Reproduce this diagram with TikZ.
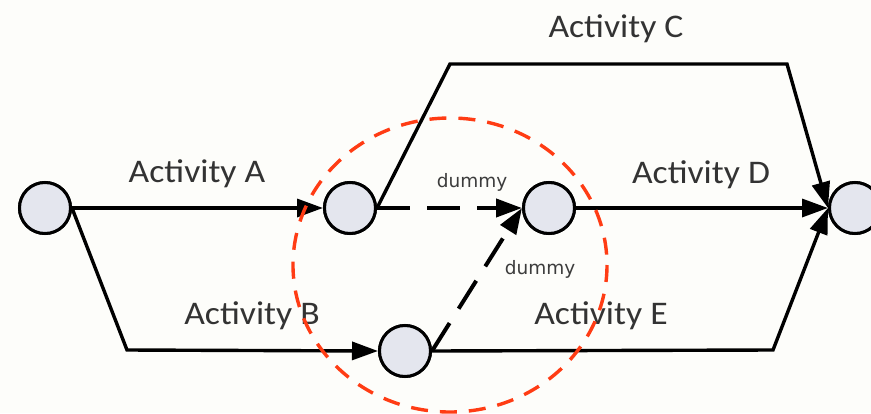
\documentclass[tikz,border=0pt]{standalone}
\usepackage{fontspec}
\setmainfont{Carlito}
\newfontfamily\dumfont{DejaVu Sans}
\usetikzlibrary{arrows.meta}

\definecolor{bgpaper}{RGB}{253,253,250}
\definecolor{eventfill}{RGB}{228,230,238}
\definecolor{ringred}{RGB}{255,60,20}
\definecolor{dumtext}{RGB}{60,60,60}

\tikzset{
  event/.style={circle, draw=black, line width=3pt, fill=eventfill,
                minimum size=51pt, inner sep=0pt},
  act/.style={line width=3.4pt, -{Triangle[length=26pt, width=18pt]}},
  dum/.style={act, line width=4pt, dash pattern=on 33pt off 17pt},
  actlabel/.style={anchor=base, font=\fontsize{33}{36}\selectfont, text=black!80},
  dumlabel/.style={anchor=base, font=\dumfont\fontsize{18.5}{20}\selectfont, text=dumtext},
  ring/.style={draw=ringred, line width=3.4pt, dash pattern=on 17pt off 12pt}
}

\begin{document}
\begin{tikzpicture}[x=1pt, y=-1pt]
  \fill[bgpaper] (0,0) rectangle (871,413);
  \useasboundingbox (0,0) rectangle (871,413);

  % events
  \node[event] (n1) at (45,208) {};
  \node[event] (n2) at (350,208) {};
  \node[event] (n3) at (549,208) {};
  \node[event] (n4) at (855,208) {};
  \node[event] (n5) at (405,351) {};

  % bends of the routed activities
  \coordinate (bB) at (127,350);
  \coordinate (cL) at (450,64);
  \coordinate (cR) at (787,64);
  \coordinate (eR) at (773,350);

  % activities
  \draw[act] (n1.east) -- (n2.west);
  \draw[act, line join=miter] (n1.east) -- (bB) -- (n5.west);
  \draw[act, line join=miter] (n2.east) -- (cL) -- (cR) -- (n4.west);
  \draw[act] (n3.east) -- (n4.west);
  \draw[act, line join=miter] (n5.east) -- (eR) -- (n4.west);

  % dummy activities
  \draw[dum] (n2.east) -- (n3.west);
  \draw[dum] (n5.east) -- (n3.west);

  % redraw events above the line ends
  \foreach \e in {n1,n2,n3,n4,n5}
    \node[event] at (\e) {};

  % labels
  \node[actlabel] (lA) at (197,182) {\scalebox{1.08}[1]{Activity A}};
  \node[actlabel] (lB) at (252,324) {\scalebox{1.08}[1]{Activity B}};
  \node[actlabel] (lC) at (616,37)  {\scalebox{1.08}[1]{Activity C}};
  \node[actlabel] (lD) at (701,183) {\scalebox{1.08}[1]{Activity D}};
  \node[actlabel] (lE) at (601,324) {\scalebox{1.08}[1]{Activity E}};
  \node[dumlabel] (d1) at (472,187) {dummy};
  \node[dumlabel] (d2) at (540,274) {dummy};

  % highlighted region
  \draw[ring] (450,265) ellipse [x radius=157, y radius=147];
\end{tikzpicture}
\end{document}
